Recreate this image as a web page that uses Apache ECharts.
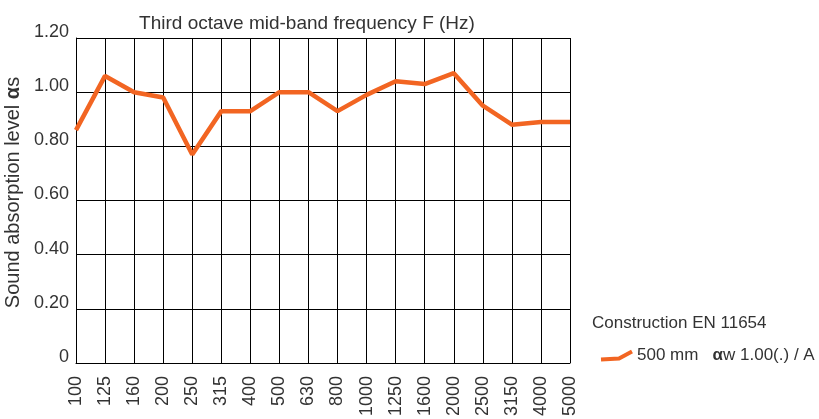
<!DOCTYPE html>
<html>
<head>
<meta charset="utf-8">
<script src="https://cdn.jsdelivr.net/npm/echarts@6/dist/echarts.min.js"></script>
<style>
  html, body { margin: 0; padding: 0; background: #fff; }
  #chart { width: 819px; height: 419px; }
</style>
</head>
<body>
<div id="chart"></div>
<script>
// third octave bands
const frequencies = ['100', '125', '160', '200', '250', '315', '400', '500', '630', '800',
  '1000', '1250', '1600', '2000', '2500', '3150', '4000', '5000'];
const absorption500 = [0.86, 1.06, 1.00, 0.98, 0.77, 0.93, 0.93, 1.00, 1.00, 0.93,
  0.99, 1.04, 1.03, 1.07, 0.95, 0.88, 0.89, 0.89];
const yTicks = [0, 0.2, 0.4, 0.6, 0.8, 1.0, 1.2];

const font = 'Liberation Sans';
const textColor = '#333';

const myChart = echarts.init(document.getElementById('chart'));
myChart.setOption({
  animation: false,
  textStyle: { fontFamily: font },
  title: [
    {
      text: 'Third octave mid-band frequency F (Hz)',
      left: 302, top: 9, textAlign: 'center',
      textStyle: { fontSize: 19, fontWeight: 'normal', color: textColor, fontFamily: font }
    },
    {
      text: 'Construction EN 11654',
      left: 592, top: 315, padding: 0,
      textStyle: { fontSize: 17, fontWeight: 'normal', color: textColor, fontFamily: font }
    }
  ],
  legend: {
    left: 594, top: 342,
    itemWidth: 31, itemHeight: 12,
    itemGap: 10,
    icon: 'path://M0,11 L18,10 L31,3',
    textStyle: { fontSize: 17, color: textColor, fontFamily: font,
      rich: { a: { fontSize: 17, fontWeight: 'bold', color: textColor } } },
    formatter: () => '500 mm   {a|α}w 1.00(.) / A',
    data: [{ name: '500 mm', itemStyle: { color: 'transparent', borderColor: '#f26522', borderWidth: 4 } }]
  },
  grid: { left: 76, right: 249, top: 38, bottom: 56, containLabel: false, outerBoundsMode: 'none' },
  xAxis: {
    type: 'category',
    data: frequencies,
    boundaryGap: false,
    axisLine: { lineStyle: { color: '#000', width: 1 } },
    axisTick: { show: false },
    axisLabel: { rotate: 90, color: textColor, fontSize: 18, margin: 13, interval: 0, fontFamily: font },
    splitLine: { show: true, lineStyle: { color: '#000', width: 1 } }
  },
  yAxis: {
    type: 'value',
    min: 0, max: 1.2, interval: 0.2,
    name: 'Sound absorption level {b|α}s',
    nameLocation: 'middle',
    nameGap: 50,
    nameTextStyle: { fontSize: 20, color: textColor, fontFamily: font,
      padding: [0, 0, 0, 16],
      rich: { b: { fontSize: 20, fontWeight: 'bold', color: textColor } } },
    axisLine: { show: true, lineStyle: { color: '#000', width: 1 } },
    axisTick: { show: false },
    axisLabel: {
      color: textColor, fontSize: 18, margin: 7, fontFamily: font,
      verticalAlign: 'bottom', lineHeight: 12,
      formatter: v => {
        const t = yTicks.find(x => Math.abs(x - v) < 1e-6);
        return t === 0 ? '0' : t.toFixed(2);
      }
    },
    splitLine: { show: true, lineStyle: { color: '#000', width: 1 } }
  },
  series: [{
    name: '500 mm',
    type: 'line',
    data: absorption500,
    symbol: 'none',
    lineStyle: { color: '#f26522', width: 4.5 },
    itemStyle: { color: '#f26522' }
  }]
});
</script>
</body>
</html>
